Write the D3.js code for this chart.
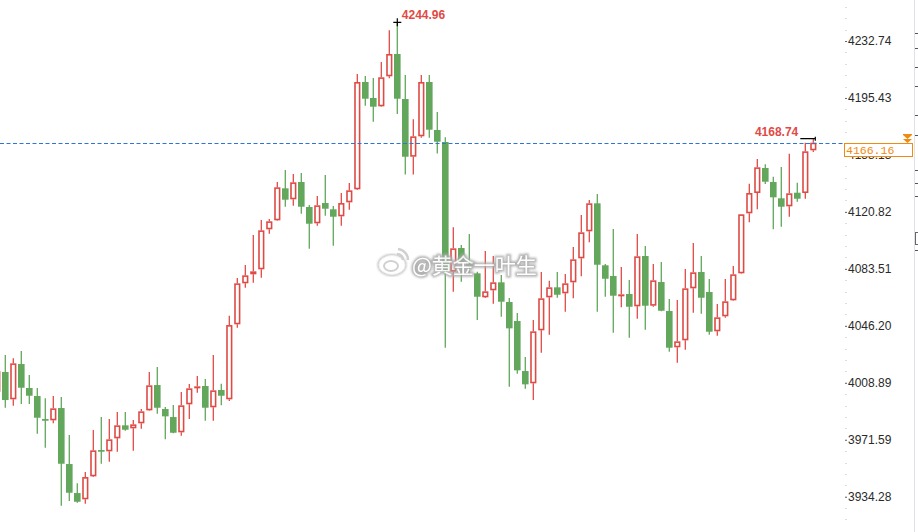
<!DOCTYPE html>
<html><head><meta charset="utf-8">
<script src="https://cdn.jsdelivr.net/npm/d3@7"></script>
<style>body{margin:0;background:#fff;overflow:hidden}svg{display:block}</style>
</head><body><svg id="c" width="918" height="532"></svg>
<script>
// candle index (first one is partly cut at the left edge)
const candleIndex = d3.range(-1, 102);
const opens = [4003.03,4015.93,3998.05,4021.17,4005.45,4000.21,3985.14,3984.29,3992.35,3955.67,3936.67,3932.55,3947.61,3964.84,3963.99,3972.50,3981.02,3979.05,3982.33,3990.84,4007.41,3991.69,3986.45,3976.43,3994.77,4005.65,4006.76,3992.81,4004.14,3998.05,4047.17,4074.03,4079.92,4083.20,4109.40,4115.29,4136.25,4129.05,4140.38,4124.00,4113.33,4126.62,4122.50,4117.91,4127.08,4135.60,4205.88,4195.40,4189.96,4209.61,4224.22,4194.74,4156.95,4170.31,4205.88,4174.44,4166.58,4081.63,4097.15,4087.98,4080.58,4064.86,4069.44,4074.68,4061.78,4049.33,4016.58,4008.53,4043.24,4064.86,4071.41,4067.48,4074.68,4090.40,4108.09,4126.43,4085.82,4078.81,4065.91,4067.02,4058.96,4091.91,4059.36,4074.88,4055.88,4032.11,4036.69,4070.75,4081.43,4068.33,4042.59,4052.41,4062.89,4080.58,4119.88,4133.17,4149.55,4140.38,4129.70,4124.46,4133.37,4133.17,4161.14];
const highs = [4020.51,4027.06,4024.90,4029.68,4013.96,4005.45,3998.70,4000.21,3999.55,3974.66,3943.03,3950.43,3977.94,3986.45,3985.14,3989.73,3989.73,3984.49,3991.69,4015.93,4019.20,3993.00,3994.31,4002.83,4008.07,4013.31,4011.34,4027.06,4008.27,4052.81,4077.50,4086.01,4105.66,4115.49,4116.14,4140.38,4148.24,4145.62,4146.27,4125.31,4131.21,4144.96,4124.66,4133.17,4139.72,4211.12,4209.81,4208.50,4218.98,4239.74,4244.96,4210.46,4181.45,4210.46,4210.46,4186.23,4169.66,4110.71,4099.11,4106.32,4081.63,4095.18,4091.91,4079.46,4064.40,4054.57,4025.75,4049.99,4081.43,4075.73,4081.43,4080.12,4097.80,4118.76,4128.59,4132.52,4086.67,4109.59,4084.70,4076.19,4106.32,4098.46,4086.67,4087.98,4063.74,4063.09,4083.39,4100.42,4091.91,4076.84,4060.47,4076.84,4085.36,4119.50,4139.27,4155.44,4151.97,4143.85,4150.20,4158.92,4139.92,4166.12,4168.74];
const lows = [4000.86,3992.55,3993.86,3994.97,3994.97,3975.52,3966.35,3982.33,3928.36,3931.43,3930.32,3929.67,3947.15,3955.87,3957.18,3963.73,3977.48,3964.38,3978.79,3990.50,3988.62,3971.85,3975.80,3974.21,3985.14,4002.37,3984.03,3984.03,3994.12,3996.93,4044.95,4071.15,4074.42,4077.70,4106.52,4115.00,4124.20,4124.86,4119.62,4096.69,4111.76,4118.31,4098.66,4111.76,4122.24,4135.14,4190.36,4179.88,4189.60,4208.30,4184.92,4145.29,4145.29,4169.40,4169.40,4159.05,4031.85,4068.53,4075.08,4079.46,4049.99,4064.50,4060.67,4052.15,4006.30,4014.82,4004.99,3997.59,4028.57,4040.36,4064.60,4055.43,4064.20,4078.61,4100.88,4055.43,4065.25,4041.67,4058.31,4038.40,4050.84,4043.64,4058.70,4055.80,4029.23,4022.02,4030.54,4054.77,4054.12,4040.36,4039.71,4051.50,4062.60,4080.30,4113.98,4122.50,4139.07,4109.40,4111.10,4117.65,4127.48,4129.44,4160.03];
const closes = [4016.58,3997.59,4021.63,4005.65,4000.41,3986.00,3984.03,3992.15,3955.87,3936.87,3930.98,3947.15,3964.64,3963.73,3971.85,3981.02,3978.14,3981.67,3990.19,4007.22,3992.55,3986.91,3976.17,3994.12,4005.25,4006.56,3992.55,4003.94,4000.41,4046.71,4074.03,4079.27,4081.89,4108.74,4114.64,4136.91,4128.79,4140.18,4124.20,4113.07,4125.12,4122.89,4117.65,4126.62,4134.94,4205.88,4194.94,4189.70,4208.96,4224.22,4194.94,4156.95,4170.31,4205.88,4174.64,4166.78,4081.63,4096.95,4087.98,4085.36,4065.25,4068.79,4074.68,4061.98,4044.55,4017.04,4007.87,4042.59,4064.20,4071.41,4066.56,4074.03,4089.75,4107.43,4126.43,4086.21,4077.04,4065.91,4066.82,4058.70,4091.71,4059.36,4075.99,4056.08,4031.85,4036.04,4070.75,4081.23,4064.59,4042.33,4051.76,4062.24,4079.92,4119.22,4133.17,4150.01,4140.58,4130.36,4124.20,4132.98,4129.44,4160.49,4166.16];
const tickLabels = ["4232.74","4195.43","4158.13","4120.82","4083.51","4046.20","4008.89","3971.59","3934.28"];
const lastPrice = 4166.16;
const maxHigh = 4244.96;
const recentHigh = 4168.74;
const watermark = "@黄金一叶生";

const RED = "#df4a45", GREEN = "#62a75c";
const svg = d3.select("#c");
const x = d3.scaleLinear().domain([-1, 101]).range([-2.7, 813.3]);
const y = d3.scaleLinear().domain([3934.28, 4232.74]).range([496.7, 41]);

const data = candleIndex.map((k, i) => ({k, o: opens[i], h: highs[i], l: lows[i], c: closes[i]}));

// watermark (behind candles? it sits above in the reference)
const g = svg.append("g");

// candles
data.forEach(d => {
  const cx = x(d.k);
  const up = d.c >= d.o;
  const top = y(Math.max(d.o, d.c)), bot = y(Math.min(d.o, d.c));
  const col = up ? RED : GREEN;
  if (up) {
    g.append("line").attr("x1", cx).attr("x2", cx).attr("y1", y(d.h)).attr("y2", top)
      .attr("stroke", col).attr("stroke-width", 1.3);
    g.append("line").attr("x1", cx).attr("x2", cx).attr("y1", bot).attr("y2", y(d.l))
      .attr("stroke", col).attr("stroke-width", 1.3);
    const hgt = Math.max(bot - top - 1.6, 0.4);
    g.append("rect").attr("x", cx - 2.3).attr("width", 4.6)
      .attr("y", top + 0.8).attr("height", hgt)
      .attr("fill", "#fff").attr("stroke", col).attr("stroke-width", 1.6);
  } else {
    g.append("line").attr("x1", cx).attr("x2", cx).attr("y1", y(d.h)).attr("y2", y(d.l))
      .attr("stroke", col).attr("stroke-width", 1.3);
    g.append("rect").attr("x", cx - 3.3).attr("width", 6.6)
      .attr("y", top).attr("height", Math.max(bot - top, 1.6))
      .attr("fill", col);
  }
});

// last price dashed line
svg.append("line").attr("x1", 0).attr("x2", 845).attr("y1", Math.round(y(lastPrice)) + 0.5).attr("y2", Math.round(y(lastPrice)) + 0.5)
  .attr("stroke", "#2f74d8").attr("stroke-width", 1).attr("stroke-dasharray", "4,2.5");

// max high marker
const mi = highs.indexOf(maxHigh);
const mx = x(candleIndex[mi]), my = y(maxHigh);
svg.append("path").attr("d", `M${mx-4},${my}H${mx+4}M${mx},${my-4}V${my+4}`).attr("stroke", "#000").attr("stroke-width", 1.2);
svg.append("text").attr("x", mx + 4.5).attr("y", my - 3.5).text(maxHigh.toFixed(2))
  .attr("fill", RED).attr("font-family", "Liberation Sans, Arial, sans-serif").attr("font-size", 12).attr("font-weight", "bold");

// recent high marker
const ri = highs.lastIndexOf(recentHigh);
const rx = x(candleIndex[ri]), ry = y(recentHigh);
svg.append("path").attr("d", `M${rx-13},${ry}H${rx+2}M${rx+2},${ry-2}V${ry+2}`).attr("stroke", "#000").attr("stroke-width", 1.2);
svg.append("text").attr("x", rx - 15).attr("y", ry - 3).attr("text-anchor", "end").text(recentHigh.toFixed(2))
  .attr("fill", RED).attr("font-family", "Liberation Sans, Arial, sans-serif").attr("font-size", 12).attr("font-weight", "bold");

// right axis
const ax = svg.append("g").attr("transform", "translate(845,0)");
const tickVals = tickLabels.map(Number);
const step = (tickVals[0] - tickVals[tickVals.length - 1]) / (tickVals.length - 1);
const minor = [];
for (let v = tickVals[tickVals.length - 1] - step; v <= tickVals[0] + step * 2; v += step / 5) minor.push(v);
ax.selectAll(".mn").data(minor.filter(v => y(v) > 2 && y(v) < 530)).enter().append("rect")
  .attr("x", 0.5).attr("y", v => Math.round(y(v))).attr("width", 1).attr("height", 1).attr("fill", "#bbb");
const axis = d3.axisRight(y).tickValues(tickVals).tickFormat((d, i) => tickLabels[i]).tickSize(2).tickPadding(1);
ax.call(axis);
ax.select(".domain").remove();
ax.selectAll(".tick line").attr("stroke", "#666");
ax.selectAll(".tick text").attr("fill", "#2a2a2a").attr("font-family", "Liberation Sans, Arial, sans-serif").attr("font-size", 12);

// last price label box
const ly = Math.round(y(lastPrice));
svg.append("rect").attr("x", 844.5).attr("y", ly + 0.5).attr("width", 68).attr("height", 13)
  .attr("fill", "#fff").attr("stroke", "#f08a12").attr("stroke-width", 1);
svg.append("text").attr("x", 846).attr("y", ly + 11).text(lastPrice.toFixed(2))
  .attr("fill", "#f08a12").attr("font-family", "Liberation Mono, DejaVu Sans Mono, monospace").attr("font-size", 11.5);
// small arrow marker
svg.append("path").attr("d", `M903,${ly-8}h9l-4.5,4z M903,${ly-4}h9l-4.5,4z`).attr("fill", "#f08a12");
svg.append("line").attr("x1", 903).attr("x2", 912).attr("y1", ly - 8.5).attr("y2", ly - 8.5).attr("stroke", "#f08a12");

// right edge panel line and marks
svg.append("line").attr("x1", 914.5).attr("x2", 914.5).attr("y1", 0).attr("y2", 532).attr("stroke", "#dde2e8");
[33, 48, 67, 86, 115, 135, 170, 183, 196, 250].forEach(v => {
  svg.append("line").attr("x1", 915).attr("x2", 918).attr("y1", v + 0.5).attr("y2", v + 0.5).attr("stroke", "#555");
});
svg.append("rect").attr("x", 915.5).attr("y", 232.5).attr("width", 4).attr("height", 12).attr("fill", "none").attr("stroke", "#666");

// watermark
const wm = svg.append("g").attr("opacity", 0.9);
const defs = svg.append("defs");
defs.append("filter").attr("id", "bl").append("feGaussianBlur").attr("stdDeviation", 1.2);
const logo = wm.append("g").attr("transform", "translate(392,265)");
logo.append("ellipse").attr("rx", 13).attr("ry", 9.5).attr("fill", "none").attr("stroke", "#bbb").attr("stroke-width", 3).attr("filter", "url(#bl)");
logo.append("ellipse").attr("rx", 13).attr("ry", 9.5).attr("fill", "#fff").attr("stroke", "#eee").attr("stroke-width", 1);
logo.append("ellipse").attr("cx", -1).attr("cy", 1).attr("rx", 7).attr("ry", 5).attr("fill", "none").attr("stroke", "#ccc").attr("stroke-width", 2);
logo.append("path").attr("d", "M6,-16 A11,11 0 0 1 16,-5 M5,-11 A6,6 0 0 1 11,-5").attr("fill", "none").attr("stroke", "#ccc").attr("stroke-width", 2.5);
wm.append("text").attr("x", 412).attr("y", 273).text(watermark)
  .attr("font-family", "Noto Sans CJK SC, sans-serif").attr("font-size", 21)
  .attr("fill", "none").attr("stroke", "#aaa").attr("stroke-width", 3.5).attr("filter", "url(#bl)");
wm.append("text").attr("x", 412).attr("y", 273).text(watermark)
  .attr("font-family", "Noto Sans CJK SC, sans-serif").attr("font-size", 21)
  .attr("fill", "#fff");
</script>
</body></html>
